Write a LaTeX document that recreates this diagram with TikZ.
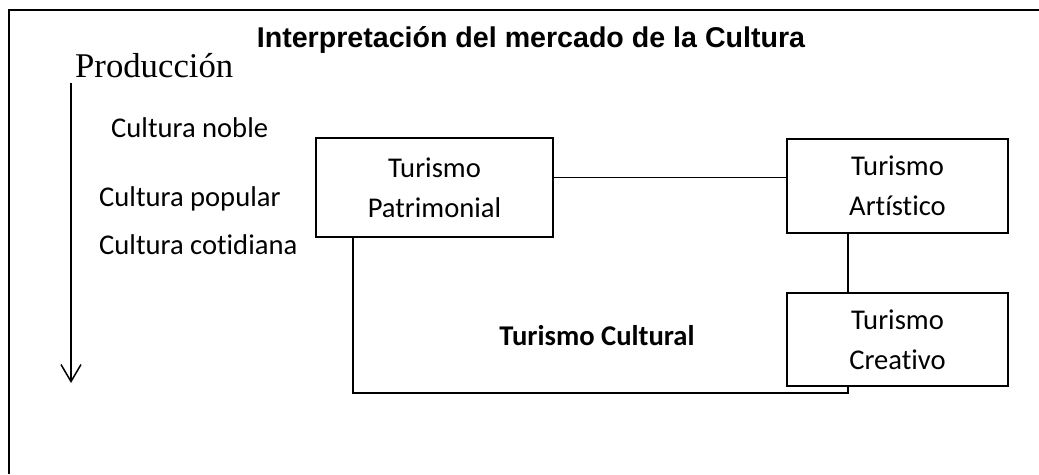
\documentclass[tikz,border=0pt]{standalone}
\usepackage{fontspec}
\setmainfont{Carlito}[RawFeature=-liga]
\newfontfamily\titlefont{Liberation Sans}
\newfontfamily\prodfont{Liberation Serif}
\usetikzlibrary{arrows.meta}
\begin{document}
\begin{tikzpicture}[x=1pt,y=-1pt,
                    box/.style={draw,line width=1.1pt,align=center,inner sep=0pt,
                                font=\fontsize{28.6}{40}\selectfont},
                    lbl/.style={anchor=base west,inner sep=0pt,font=\fontsize{28.6}{34}\selectfont},
                    link/.style={line width=1.1pt}]
                    \useasboundingbox (0,0) rectangle (1039,474);
                    \draw[line width=1.5pt] (9,474) -- (9,10) -- (1039,10);
                    \node[anchor=base,inner sep=0pt,font=\titlefont\bfseries\fontsize{28.6}{34}\selectfont] (title) at (531,47) {Interpretación del mercado de la Cultura};
                    \node[anchor=base west,inner sep=0pt,font=\prodfont\fontsize{34.7}{40}\selectfont] (prod) at (75,77) {Producción};
                    \coordinate (prodtop) at (71,83);
                    \coordinate (prodend) at (71,383);
                    \draw[line width=1.5pt,-{Straight Barb[length=17pt,width=20pt,line width=1.5pt]}] (prodtop) -- (prodend);
                    \node[lbl] (noble) at (111,137) {Cultura noble};
                    \node[lbl] (popular) at (99,206) {Cultura popular};
                    \node[lbl] (cotid) at (99,254) {Cultura cotidiana};
                    \node[box,minimum width=237pt,minimum height=99pt] (pat) at (434.5,187.5) {Turismo\\Patrimonial};
                    \node[box,minimum width=221pt,minimum height=94pt] (art) at (897.5,186) {Turismo\\Artístico};
                    \node[box,minimum width=221pt,minimum height=93pt] (cre) at (897.5,339.5) {Turismo\\Creativo};
                    \node[anchor=base,inner sep=0pt,font=\bfseries\fontsize{28.6}{34}\selectfont] (cult) at (597,345) {Turismo Cultural};
                    \coordinate (lcorner) at (848,393);
                    \draw[link] ([yshift=10pt]pat.east) -- ([yshift=10pt]pat.east -| art.west);
                    \draw[link] ([xshift=-49.5pt]art.south) -- ([xshift=-49.5pt]art.south |- cre.north);
                    \draw[link] ([xshift=-81.5pt]pat.south) |- (lcorner) -- (lcorner |- cre.south);
                 \end{tikzpicture}
\end{document}
